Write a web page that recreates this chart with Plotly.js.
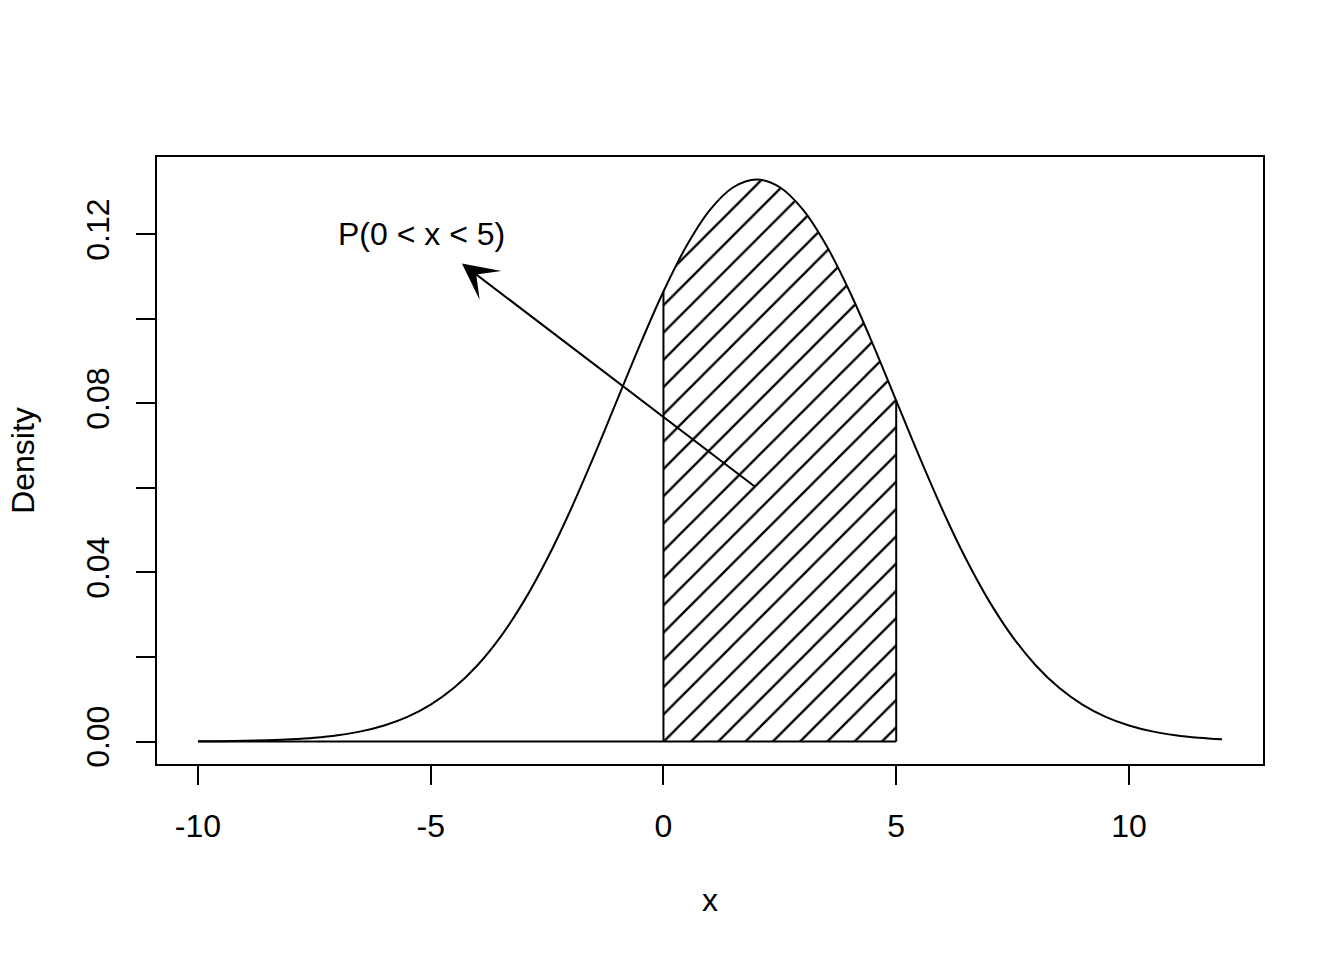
<!DOCTYPE html>
<html>
<head>
<meta charset="utf-8">
<script src="https://cdn.plot.ly/plotly-3.0.1.min.js"></script>
<style>html,body{margin:0;padding:0;background:#fff;}#chart{width:1344px;height:960px;}</style>
</head>
<body>
<div id="chart"></div>
<script>
// Density curve values (normal-shaped, peak ~0.133 at x = 2)
const xVals = [-10,-9.5,-9,-8.5,-8,-7.5,-7,-6.5,-6,-5.5,-5,-4.5,-4,-3.5,-3,-2.5,-2,-1.5,-1,-0.5,0,0.5,1,1.5,2,2.5,3,3.5,4,4.5,5,5.5,6,6.5,7,7.5,8,8.5,9,9.5,10,10.5,11,11.5,12];
const densVals = [0.000045,0.000086,0.000160,0.000291,0.000514,0.000884,0.001477,0.002402,0.003799,0.005843,0.008741,0.012717,0.017997,0.024771,0.033159,0.043172,0.054670,0.067332,0.080657,0.093971,0.106483,0.117355,0.125794,0.131146,0.132981,0.131146,0.125794,0.117355,0.106483,0.093971,0.080657,0.067332,0.054670,0.043172,0.033159,0.024771,0.017997,0.012717,0.008741,0.005843,0.003799,0.002402,0.001477,0.000884,0.000514];

// Shaded interval
const shadeLow = 0;
const shadeHigh = 5;
// Baseline drawn under the curve
const baseX = [-10, 5];
const baseY = [0, 0];

// Tick labels
const xTickVals = [-10, -5, 0, 5, 10];
const xTickText = ['-10', '-5', '0', '5', '10'];
const yTickVals = [0, 0.02, 0.04, 0.06, 0.08, 0.10, 0.12];
const yTickText = ['0.00', '', '0.04', '', '0.08', '', '0.12'];

// Annotation
const labelText = 'P(0 < x < 5)';
const labelPos = [-5.2, 0.12];
const arrowTail = [2, 0.06];
const arrowHead = [-4.33, 0.1131];

// Build shaded polygon from the curve arrays
const polyX = [shadeLow], polyY = [0];
xVals.forEach((v, i) => { if (v >= shadeLow && v <= shadeHigh) { polyX.push(v); polyY.push(densVals[i]); } });
polyX.push(shadeHigh); polyY.push(0);
const yAtLow = densVals[xVals.indexOf(shadeLow)];
const yAtHigh = densVals[xVals.indexOf(shadeHigh)];

const FONT = 'Liberation Sans, Arial, Helvetica, sans-serif';

const traces = [
  {
    x: polyX, y: polyY, type: 'scatter', mode: 'lines', fill: 'toself',
    fillcolor: 'rgba(0,0,0,0)',
    fillpattern: {shape: '/', size: 19.29, solidity: 0.12, fgcolor: '#000', fgopacity: 1, bgcolor: 'rgba(0,0,0,0)', fillmode: 'overlay'},
    line: {width: 0, color: 'rgba(0,0,0,0)'}, hoverinfo: 'skip', showlegend: false
  },
  {
    x: xVals, y: densVals, type: 'scatter', mode: 'lines',
    line: {color: '#000', width: 2, shape: 'spline', smoothing: 1}, showlegend: false
  },
  {
    x: [baseX[0], baseX[1], null, shadeLow, shadeLow, null, shadeHigh, shadeHigh],
    y: [baseY[0], baseY[1], null, 0, yAtLow, null, 0, yAtHigh],
    type: 'scatter', mode: 'lines', line: {color: '#000', width: 2}, showlegend: false, hoverinfo: 'skip'
  }
];

const layout = {
  width: 1344, height: 960,
  paper_bgcolor: '#fff', plot_bgcolor: '#fff',
  margin: {l: 157, r: 81, t: 157, b: 196},
  font: {family: FONT, size: 32, color: '#000'},
  showlegend: false,
  xaxis: {
    range: [-10.88, 12.88], tickmode: 'array', tickvals: xTickVals, ticktext: xTickText,
    ticks: 'outside', ticklen: 19, tickwidth: 2, tickcolor: '#000',
    showline: true, mirror: true, linecolor: '#000', linewidth: 2,
    showgrid: false, zeroline: false, ticklabelstandoff: 14,
    tickfont: {family: FONT, size: 32, color: '#000'},
    title: {text: 'x', font: {family: FONT, size: 32, color: '#000'}, standoff: 45},
    automargin: false
  },
  yaxis: {
    range: [-0.00532, 0.1383], tickmode: 'array', tickvals: yTickVals, ticktext: yTickText,
    ticks: 'outside', ticklen: 19, tickwidth: 2, tickcolor: '#000', tickangle: -90,
    showline: true, mirror: true, linecolor: '#000', linewidth: 2,
    showgrid: false, zeroline: false, ticklabelstandoff: 14,
    tickfont: {family: FONT, size: 32, color: '#000'},
    title: {text: 'Density', font: {family: FONT, size: 32, color: '#000'}, standoff: 36},
    automargin: false
  },
  annotations: [
    {x: labelPos[0], y: labelPos[1], xref: 'x', yref: 'y', text: labelText, showarrow: false,
     font: {family: FONT, size: 32, color: '#000'}, xanchor: 'center', yanchor: 'middle'},
    {x: arrowHead[0], y: arrowHead[1], ax: arrowTail[0], ay: arrowTail[1], xref: 'x', yref: 'y', axref: 'x', ayref: 'y',
     text: '', showarrow: true, arrowhead: 3, arrowsize: 3, arrowwidth: 2, arrowcolor: '#000', standoff: 0}
  ]
};

Plotly.newPlot('chart', traces, layout, {displayModeBar: false, staticPlot: true});
</script>
</body>
</html>
